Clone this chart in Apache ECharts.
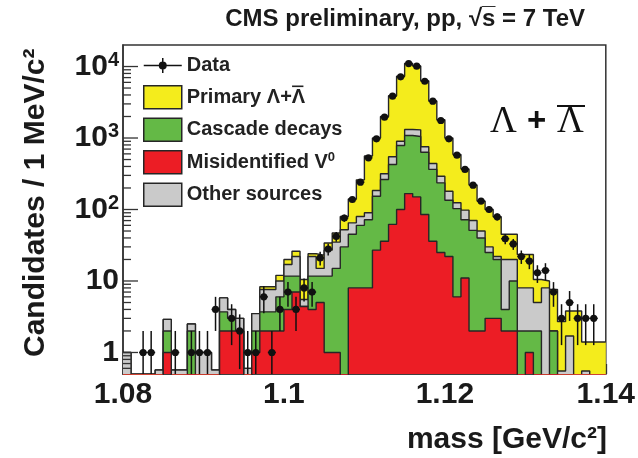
<!DOCTYPE html>
<html>
<head>
<meta charset="utf-8">
<script src="https://cdn.jsdelivr.net/npm/echarts@6/dist/echarts.min.js"></script>
<style>
  html, body { margin: 0; padding: 0; background: #ffffff; }
  #chart { width: 638px; height: 458px; }
</style>
</head>
<body>
<div id="chart"></div>
<script>
// Lambda candidate mass spectrum, 1 MeV/c^2 bins from 1.080 to 1.140 GeV/c^2
const massLow = 1.08;
const binWidth = 0.001;

// Observed candidates per bin
const dataCounts = [
  0, 0, 1, 1, 0, 0, 1, 0, 1, 1,
  1, 4, 0, 3, 2, 1, 1, 6, 1, 4,
  7, 4, 8, 7, 21, 28, 42, 76, 138, 241,
  528, 973, 1954, 3845, 7180, 11000, 10100, 6220, 3273, 1757,
  973, 575, 364, 219, 131, 100, 79, 39, 33, 22,
  19, 13, 14, 7, 3, 5, 3, 3, 3, 0
];

// Simulated contributions per bin (stacked bottom to top: misidentified, cascade, other, primary)
const misidentifiedV0 = [
  0, 0, 0, 0, 0, 1, 0, 0, 0, 0,
  0, 0, 2, 2, 2, 0, 1, 2, 2, 2,
  4, 7, 4.4, 4, 5, 1, 1, 0, 8, 8,
  8, 27, 36, 62, 100, 167, 150, 85, 36, 25,
  22, 6, 11, 2, 2, 3, 3, 2, 2, 0,
  1, 0, 0, 0, 0, 0, 0, 0, 0, 0
];
const cascadeDecays = [
  0, 0, 0, 0, 0, 1, 0, 0, 2, 0,
  0, 0, 1.7, 1, 0, 0, 1, 1.7, 1.7, 4,
  7.7, 4.7, 0, 7.7, 6.7, 10.7, 14, 30, 37, 52,
  64, 126, 227, 364, 685, 917, 900, 547, 328, 211,
  113, 97, 61, 49, 38, 22, 17, 2, 8, 2,
  1, 2, 0, 2, 0, 0, 0, 0, 0, 0
];
const otherSources = [
  1, 0, 0, 0, 0.57, 0.9, 0.57, 0.57, 0.5, 1,
  1, 0.57, 2.1, 1, 1, 0.6, 1.5, 3.9, 3.9, 4,
  5.3, 10.3, 1.1, 10.3, 3.3, 15.3, 20, 22, 20, 20,
  18, 31, 53, 120, 117, 231, 250, 121, 76, 56,
  45, 21, 26, 19, 10, 5, 2, 16, 10, 6,
  6, 3, 8, 0, 0.55, 1.7, 0, 0.55, 0, 0
];
const primaryLambda = [
  0, 0, 0, 0, 0, 0, 0, 0, 0, 0,
  0, 0, 0, 0, 0, 0, 0, 0.7, 0.7, 2,
  3, 4, 5, 2, 8, 7, 12, 28, 75, 180,
  470, 816, 1684, 3354, 6398, 9685, 8900, 5547, 2860, 1508,
  820, 466, 272, 150, 81, 70, 57, 25, 25, 15.5,
  15.5, 5.5, 2, 5.6, 2.15, 2.1, 3.8, 0.85, 1.4, 1.4
];

// Axis ranges and tick labels
const xRange = [1.08, 1.14];
const xTickStep = 0.02;
const yRange = [0.5, 20000];
const yDecadeLabels = { 1: '1', 10: '10', 100: '10{sup|2}', 1000: '10{sup|3}', 10000: '10{sup|4}' };

// Series names
const NAME_DATA = 'Data';
const NAME_PRIMARY = 'Primary \u039B+\u039B';
const NAME_CASCADE = 'Cascade decays';
const NAME_MISID = 'Misidentified V0';
const NAME_OTHER = 'Other sources';

const COL_YELLOW = '#f4ec1c';
const COL_GREEN = '#64b946';
const COL_RED = '#ec1d25';
const COL_GRAY = '#cacaca';
const COL_LINE = '#262626';
const FONT = 'Liberation Sans, Arial, Helvetica, sans-serif';
const SERIF = 'Liberation Serif, Times New Roman, serif';

// Legend geometry
const LEG_LEFT = 138, LEG_TOP = 49, LEG_PAD = 5, LEG_W = 38, LEG_H = 23, LEG_GAP = 8, LEG_FONT = 20;

// Empty bins drop below the visible log range
const FLOOR = 0.2;

function stackLevels(parts) {
  return parts[0].map((_, i) => parts.reduce((s, p) => s + p[i], 0));
}
function stepPoints(levels) {
  const pts = levels.map((v, i) => [massLow + i * binWidth, v > 0 ? v : FLOOR]);
  const last = levels[levels.length - 1];
  pts.push([massLow + levels.length * binWidth, last > 0 ? last : FLOOR]);
  return pts;
}
function histSeries(name, levels, fill, z) {
  return {
    name: name,
    type: 'line',
    step: 'end',
    data: stepPoints(levels),
    symbol: 'none',
    clip: true,
    z: z,
    color: fill,
    lineStyle: { color: COL_LINE, width: 1.4 },
    areaStyle: { color: fill, opacity: 1, origin: 'start' },
    emphasis: { disabled: true },
    animation: false
  };
}

const levelRed = stackLevels([misidentifiedV0]);
const levelGreen = stackLevels([misidentifiedV0, cascadeDecays]);
const levelGray = stackLevels([misidentifiedV0, cascadeDecays, otherSources]);
const levelYellow = stackLevels([misidentifiedV0, cascadeDecays, otherSources, primaryLambda]);

// Data points with Poisson uncertainty
const dataPoints = [];
dataCounts.forEach((n, i) => {
  if (n > 0) dataPoints.push([massLow + (i + 0.5) * binWidth, n, Math.sqrt(n)]);
});

// Log-axis tick marks (majors at decades, minors at 2..9)
const yTicks = [];
for (let d = -1; d <= 4; d++) {
  for (let m = 1; m <= 9; m++) {
    const v = m * Math.pow(10, d);
    if (v > yRange[0] * 1.0001 && v < yRange[1] * 0.9999) yTicks.push([massLow, v, m === 1 ? 1 : 0]);
  }
}

// Bar over the antiparticle symbol in the legend entry
const measureCtx = document.createElement('canvas').getContext('2d');
measureCtx.font = 'bold ' + LEG_FONT + 'px ' + FONT;
const legTextX = LEG_LEFT + LEG_PAD + LEG_W + 5;
const barStart = legTextX + measureCtx.measureText('Primary \u039B+').width;
const barEnd = legTextX + measureCtx.measureText('Primary \u039B+\u039B').width;
const primaryRowMid = LEG_TOP + LEG_PAD + (LEG_H + LEG_GAP) + LEG_H / 2;
const barY = primaryRowMid - 0.36 * LEG_FONT - 3;

const chart = echarts.init(document.getElementById('chart'), null, { renderer: 'canvas' });

chart.setOption({
  backgroundColor: '#ffffff',
  animation: false,
  title: {
    text: 'CMS preliminary, pp, \u221As\u0305 = 7 TeV',
    right: 48,
    top: 2,
    textStyle: { fontFamily: FONT, fontWeight: 'bold', fontSize: 24, color: '#1a1a1a' }
  },
  grid: {
    left: 123, right: 31, top: 45, bottom: 84,
    show: true, borderColor: '#333', borderWidth: 1.5, backgroundColor: 'transparent'
  },
  legend: {
    orient: 'vertical',
    left: LEG_LEFT,
    top: LEG_TOP,
    padding: LEG_PAD,
    itemWidth: LEG_W,
    itemHeight: LEG_H,
    itemGap: LEG_GAP,
    selectedMode: false,
    textStyle: {
      fontFamily: FONT, fontWeight: 'bold', fontSize: LEG_FONT, color: '#222',
      rich: { sup: { fontFamily: FONT, fontWeight: 'bold', fontSize: 13, color: '#222', verticalAlign: 'top', padding: [0, 0, 9, 0] } }
    },
    formatter: function (name) {
      return name === NAME_MISID ? 'Misidentified V{sup|0}' : name;
    },
    data: [
      { name: NAME_DATA, icon: 'path://M0,10.75h38v1.5h-38z M18.25,4h1.5v15h-1.5z M15,11.5a4,4 0 1,1 8,0a4,4 0 1,1 -8,0z M0,0h0.01v0.01h-0.01z M37.99,22.99h0.01v0.01h-0.01z', itemStyle: { color: '#111', borderWidth: 0 } },
      { name: NAME_PRIMARY, icon: 'rect', itemStyle: { color: COL_YELLOW, borderColor: COL_LINE, borderWidth: 1.5 } },
      { name: NAME_CASCADE, icon: 'rect', itemStyle: { color: COL_GREEN, borderColor: COL_LINE, borderWidth: 1.5 } },
      { name: NAME_MISID, icon: 'rect', itemStyle: { color: COL_RED, borderColor: COL_LINE, borderWidth: 1.5 } },
      { name: NAME_OTHER, icon: 'rect', itemStyle: { color: COL_GRAY, borderColor: COL_LINE, borderWidth: 1.5 } }
    ]
  },
  xAxis: {
    type: 'value',
    min: xRange[0],
    max: xRange[1],
    interval: xTickStep,
    axisLine: { show: true, lineStyle: { color: '#333', width: 1.5 } },
    axisTick: { show: true, inside: true, length: 10, lineStyle: { color: '#333', width: 1.3 } },
    minorTick: { show: true, splitNumber: 4, length: 5, lineStyle: { color: '#333', width: 1.3 } },
    splitLine: { show: false },
    axisLabel: {
      margin: 6,
      fontFamily: FONT, fontWeight: 'bold', fontSize: 30, color: '#1a1a1a',
      formatter: function (v) { return String(Math.round(v * 100) / 100); }
    }
  },
  yAxis: {
    type: 'log',
    logBase: 10,
    min: yRange[0],
    max: yRange[1],
    axisLine: { show: true, lineStyle: { color: '#333', width: 1.5 } },
    axisTick: { show: false },
    splitLine: { show: false },
    axisLabel: {
      margin: 4,
      fontFamily: FONT, fontWeight: 'bold', fontSize: 30, color: '#1a1a1a',
      formatter: function (v) {
        const k = Math.round(v);
        return yDecadeLabels[k] !== undefined && Math.abs(v - k) < 1e-6 ? yDecadeLabels[k] : '';
      },
      rich: { sup: { fontFamily: FONT, fontWeight: 'bold', fontSize: 20, color: '#1a1a1a', verticalAlign: 'top', padding: [0, 0, 13, 0] } }
    }
  },
  graphic: [
    {
      type: 'text', x: 51, y: 357, rotation: Math.PI / 2,
      style: { text: 'Candidates / 1 MeV/c\u00B2', font: 'bold 30px ' + FONT, fill: '#1a1a1a', align: 'left', verticalAlign: 'bottom' }
    },
    {
      type: 'text', x: 607, y: 455,
      style: { text: 'mass [GeV/c\u00B2]', font: 'bold 30px ' + FONT, fill: '#1a1a1a', align: 'right', verticalAlign: 'bottom' }
    },
    { type: 'text', x: 490, y: 122, style: { text: '\u039B', font: '37px ' + SERIF, fill: '#111', align: 'left', verticalAlign: 'middle' } },
    { type: 'text', x: 527, y: 122, style: { text: '+', font: 'bold 33px ' + FONT, fill: '#111', align: 'left', verticalAlign: 'middle' } },
    { type: 'text', x: 557, y: 122, style: { text: '\u039B', font: '37px ' + SERIF, fill: '#111', align: 'left', verticalAlign: 'middle' } },
    { type: 'line', shape: { x1: 557, y1: 106, x2: 585, y2: 106 }, style: { stroke: '#111', lineWidth: 2 } },
    { type: 'line', shape: { x1: barStart + 1, y1: barY, x2: barEnd - 1, y2: barY }, style: { stroke: '#222', lineWidth: 1.6 } }
  ],
  series: [
    histSeries(NAME_PRIMARY, levelYellow, COL_YELLOW, 1),
    histSeries(NAME_OTHER, levelGray, COL_GRAY, 2),
    histSeries(NAME_CASCADE, levelGreen, COL_GREEN, 3),
    histSeries(NAME_MISID, levelRed, COL_RED, 4),
    {
      name: NAME_DATA,
      type: 'custom',
      data: dataPoints,
      encode: { x: 0, y: 1 },
      clip: true,
      z: 6,
      renderItem: function (params, api) {
        const x = api.value(0), n = api.value(1), e = api.value(2);
        const c = api.coord([x, n]);
        const hi = api.coord([x, n + e]);
        const lo = api.coord([x, n - e > 0 ? n - e : FLOOR]);
        const l = api.coord([x - binWidth / 2, n]);
        const r = api.coord([x + binWidth / 2, n]);
        const st = { stroke: '#111', lineWidth: 1.5 };
        return {
          type: 'group',
          children: [
            { type: 'line', shape: { x1: c[0], y1: hi[1], x2: c[0], y2: lo[1] }, style: st },
            { type: 'line', shape: { x1: l[0], y1: c[1], x2: r[0], y2: c[1] }, style: st },
            { type: 'circle', shape: { cx: c[0], cy: c[1], r: 3.6 }, style: { fill: '#111' } }
          ]
        };
      }
    },
    {
      // tick marks of the log axis, drawn inside the frame
      name: 'yTicks',
      type: 'custom',
      data: yTicks,
      encode: { x: 0, y: 1 },
      silent: true,
      z: 7,
      renderItem: function (params, api) {
        const p = api.coord([api.value(0), api.value(1)]);
        const len = api.value(2) ? 15 : 8;
        return { type: 'line', shape: { x1: p[0], y1: p[1], x2: p[0] + len, y2: p[1] }, style: { stroke: '#333', lineWidth: 1.3 } };
      }
    }
  ]
});
</script>
</body>
</html>
